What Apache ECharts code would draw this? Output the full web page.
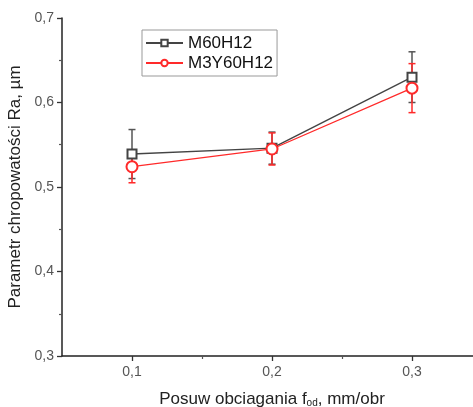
<!DOCTYPE html>
<html lang="pl">
<head>
    <meta charset="UTF-8">
    <title>Parametr chropowatości Ra</title>
    <script src="https://cdn.jsdelivr.net/npm/echarts@6/dist/echarts.min.js"></script>
    <style>
        html, body { margin: 0; padding: 0; background: #fff; }
        #chart { width: 473px; height: 407px; }
    </style>
</head>
<body>
    <div id="chart"></div>
    <script>
        const feeds = [0.1, 0.2, 0.3];
        const m60h12 = [0.539, 0.546, 0.630];
        const m60h12Err = [0.029, 0.019, 0.030];
        const m3y60h12 = [0.524, 0.545, 0.617];
        const m3y60h12Err = [0.019, 0.019, 0.029];
        const xTicks = [0.1, 0.2, 0.3];
        const xMinorTicks = [0.15, 0.25];

        const font = 'Liberation Sans, Arial, sans-serif';
        const comma = v => String(Math.round(v * 10) / 10).replace('.', ',');

        function errorBars(color) {
            return function (params, api) {
                const x = api.value(0), y = api.value(1), e = api.value(2);
                const top = api.coord([x, y + e]);
                const bot = api.coord([x, y - e]);
                const w = 3.5;
                const style = { stroke: color, lineWidth: 1.5 };
                return {
                    type: 'group',
                    children: [
                        { type: 'line', shape: { x1: top[0], y1: top[1], x2: bot[0], y2: bot[1] }, style },
                        { type: 'line', shape: { x1: top[0] - w, y1: top[1], x2: top[0] + w, y2: top[1] }, style },
                        { type: 'line', shape: { x1: bot[0] - w, y1: bot[1], x2: bot[0] + w, y2: bot[1] }, style }
                    ]
                };
            };
        }

        const chart = echarts.init(document.getElementById('chart'));
        chart.setOption({
            animation: false,
            textStyle: { fontFamily: font },
            grid: { left: 62, top: 18, width: 420, height: 338, outerBoundsMode: 'none', containLabel: false },
            legend: {
                data: ['M60H12', 'M3Y60H12'],
                orient: 'vertical',
                left: 142, top: 30,
                padding: [3, 4, 3, 3],
                itemWidth: 37, itemHeight: 8, itemGap: 0,
                borderColor: '#999', borderWidth: 1,
                textStyle: { fontSize: 17, lineHeight: 20, color: '#111', fontFamily: font }
            },
            xAxis: [{
                type: 'value', min: 0.05, max: 0.35,
                name: 'Posuw obciagania f{sub|od}, mm/obr',
                nameLocation: 'middle', nameGap: 34,
                nameTextStyle: {
                    fontSize: 17, color: '#222',
                    rich: { sub: { fontSize: 10, verticalAlign: 'bottom', padding: [8, 0, 0, 0], color: '#222' } }
                },
                splitLine: { show: false },
                axisLine: { lineStyle: { color: '#222', width: 1.5 } },
                axisTick: { customValues: xTicks, length: 5, lineStyle: { color: '#333', width: 1.3 } },
                axisLabel: { customValues: xTicks, formatter: comma, fontSize: 14, color: '#555', margin: 9 }
            }, {
                type: 'value', min: 0.05, max: 0.35, position: 'bottom',
                splitLine: { show: false },
                axisLine: { show: false },
                axisTick: { customValues: xMinorTicks, length: 3, lineStyle: { color: '#555', width: 1.2 } },
                axisLabel: { show: false }
            }],
            yAxis: {
                type: 'value', min: 0.3, max: 0.7, interval: 0.1,
                name: 'Parametr chropowatości Ra, µm',
                nameLocation: 'middle', nameGap: 35,
                nameTextStyle: { fontSize: 17, color: '#222' },
                splitLine: { show: false },
                axisLine: { show: true, lineStyle: { color: '#222', width: 1.5 } },
                axisTick: { show: true, length: 5, lineStyle: { color: '#333', width: 1.3 } },
                minorTick: { show: true, splitNumber: 2, length: 3, lineStyle: { color: '#555', width: 1.2 } },
                axisLabel: { formatter: comma, fontSize: 14, color: '#555', margin: 8 }
            },
            series: [
                {
                    type: 'custom', renderItem: errorBars('#555'), z: 1,
                    data: feeds.map((x, i) => [x, m60h12[i], m60h12Err[i]])
                },
                {
                    type: 'custom', renderItem: errorBars('#ff2a2a'), z: 1,
                    data: feeds.map((x, i) => [x, m3y60h12[i], m3y60h12Err[i]])
                },
                {
                    name: 'M60H12', type: 'line', z: 3,
                    data: feeds.map((x, i) => [x, m60h12[i]]),
                    symbol: 'emptyRect', symbolSize: 9,
                    lineStyle: { color: '#444', width: 1.4 },
                    itemStyle: { color: '#444', borderWidth: 1.5 }
                },
                {
                    name: 'M3Y60H12', type: 'line', z: 4,
                    data: feeds.map((x, i) => [x, m3y60h12[i]]),
                    symbol: 'emptyCircle', symbolSize: 11,
                    lineStyle: { color: '#ff2a2a', width: 1.3 },
                    itemStyle: { color: '#ff2a2a', borderWidth: 1.4 }
                }
            ]
        });
    </script>
</body>
</html>
